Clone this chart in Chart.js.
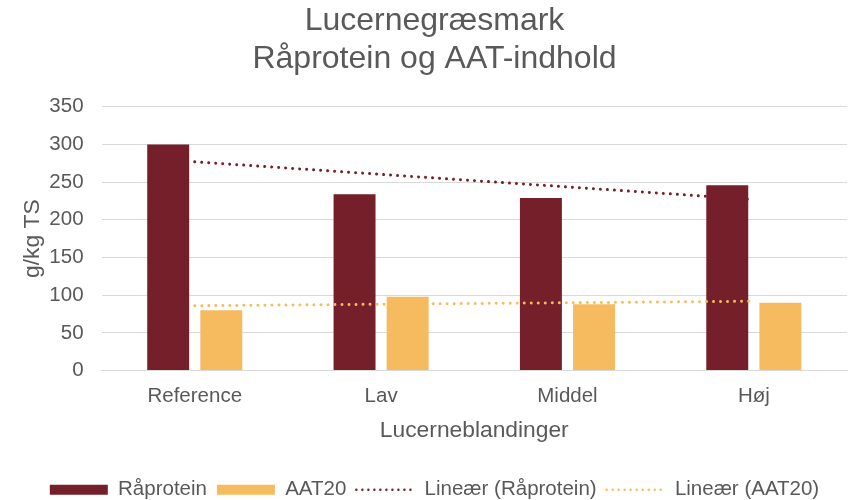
<!DOCTYPE html>
<html>
<head>
<meta charset="utf-8">
<title>Lucernegræsmark</title>
<script src="https://cdn.jsdelivr.net/npm/chart.js@4/dist/chart.umd.min.js"></script>
<style>
  html, body { margin: 0; padding: 0; background: #fff; }
  #wrap { width: 852px; height: 500px; }
</style>
</head>
<body>
<div id="wrap"><canvas id="chart"></canvas></div>
<script>
const categories = ['Reference', 'Lav', 'Middel', 'Høj'];
const raaprotein = [300, 234, 229, 246];
const aat20 = [80, 98, 88, 90];
// trend lines, end points (first and last category)
const trendRaaprotein = [277, null, null, 227];
const trendAat20 = [86, null, null, 92];

const maroon = '#741F2A';
const gold = '#F6BB5F';
const grey = '#595959';

Chart.defaults.font.family = '"Liberation Sans", Arial, sans-serif';
Chart.defaults.color = grey;

const dotted = (color) => ({
  type: 'line',
  borderColor: color,
  backgroundColor: color,
  borderWidth: 3,
  borderDash: [0.01, 7],
  borderCapStyle: 'round',
  pointRadius: 0,
  pointHoverRadius: 0,
  spanGaps: true,
  fill: false,
  order: 0
});

new Chart(document.getElementById('chart'), {
  type: 'bar',
  data: {
    labels: categories,
    datasets: [
      { label: 'Råprotein', data: raaprotein, backgroundColor: maroon, order: 1 },
      { label: 'AAT20', data: aat20, backgroundColor: gold, order: 1 },
      Object.assign(dotted(maroon), { label: 'Lineær (Råprotein)', data: trendRaaprotein }),
      Object.assign(dotted(gold), { label: 'Lineær (AAT20)', data: trendAat20 })
    ]
  },
  options: {
    responsive: true,
    maintainAspectRatio: false,
    animation: false,
    datasets: {
      bar: { categoryPercentage: 0.57, barPercentage: 0.79 }
    },
    layout: { padding: { left: 22, right: 5, top: 2, bottom: -10 } },
    plugins: {
      tooltip: { enabled: false },
      title: {
        display: true,
        text: ['Lucernegræsmark', 'Råprotein og AAT-indhold'],
        font: { size: 32, weight: 'normal' },
        lineHeight: 1.19,
        color: grey,
        padding: { top: 0, bottom: 28 }
      },
      legend: {
        position: 'bottom',
        labels: {
          usePointStyle: true,
          pointStyleWidth: 58,
          boxHeight: 10,
          padding: 10,
          font: { size: 20.5 },
          color: grey,
          sort: (a, b) => a.datasetIndex - b.datasetIndex,
          generateLabels(chart) {
            const items = Chart.defaults.plugins.legend.labels.generateLabels(chart);
            items.forEach(item => {
              const ds = chart.data.datasets[item.datasetIndex];
              if (ds.type === 'line') {
                item.pointStyle = 'line';
                item.lineWidth = 2.5;
                item.lineCap = 'round';
                item.lineDash = [0.01, 6];
              } else {
                item.pointStyle = 'rect';
                item.lineWidth = 0;
              }
            });
            return items;
          }
        }
      }
    },
    scales: {
      x: {
        grid: { display: false },
        border: { display: true, color: '#d9d9d9', width: 1 },
        ticks: { font: { size: 20.5 }, color: grey, padding: 6 },
        title: {
          display: true,
          text: 'Lucerneblandinger',
          font: { size: 22.8 },
          color: grey,
          padding: { top: 2, bottom: 25 }
        }
      },
      y: {
        min: 0,
        max: 350,
        ticks: { stepSize: 50, font: { size: 20.5 }, color: grey, padding: 18 },
        grid: { color: '#d9d9d9', lineWidth: 1, drawTicks: false },
        border: { display: false },
        title: {
          display: true,
          text: 'g/kg TS',
          font: { size: 22.8 },
          color: grey,
          padding: { top: -3, bottom: -15 }
        }
      }
    }
  }
});
</script>
</body>
</html>
